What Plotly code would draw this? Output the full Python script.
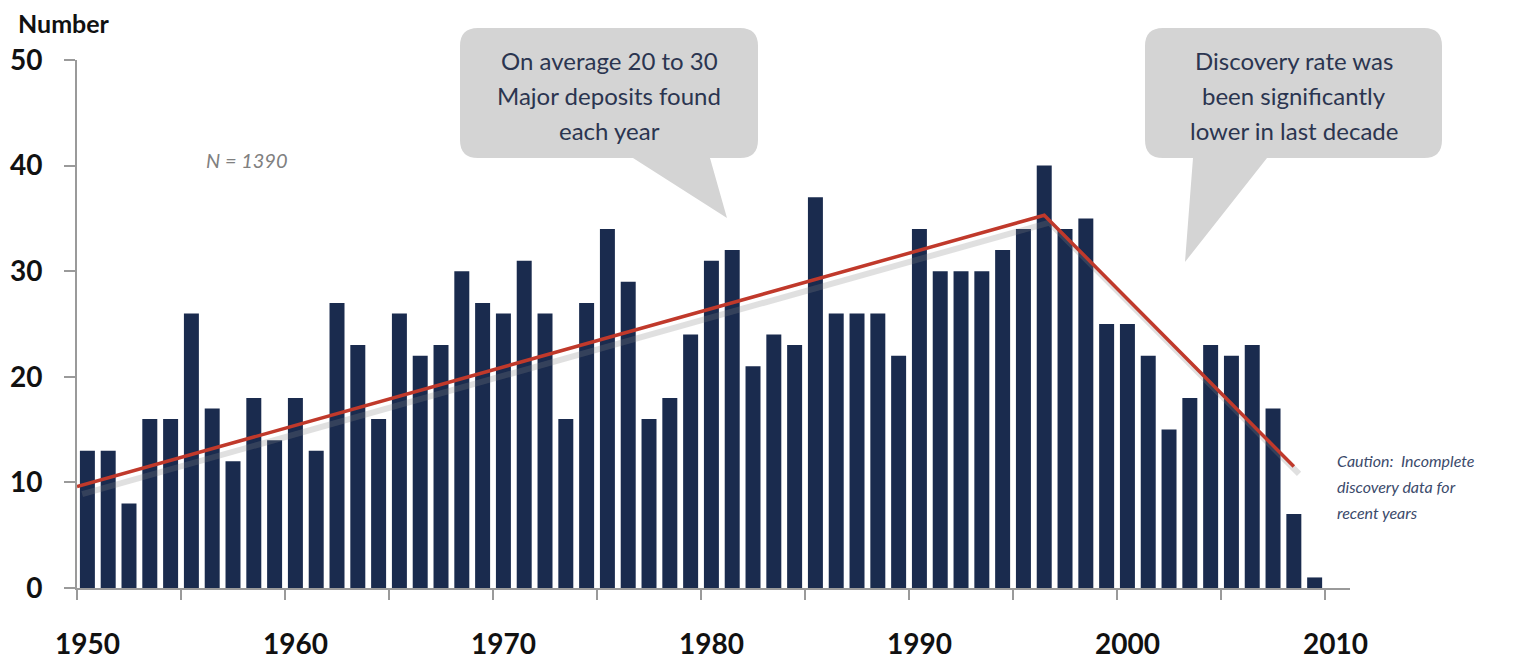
import plotly.graph_objects as go

# ---------------- data ----------------
years = list(range(1950, 2010))
discoveries = [13, 13, 8, 16, 16, 26, 17, 12, 18, 14,
               18, 13, 27, 23, 16, 26, 22, 23, 30, 27,
               26, 31, 26, 16, 27, 34, 29, 16, 18, 24,
               31, 32, 21, 24, 23, 37, 26, 26, 26, 22,
               34, 30, 30, 30, 32, 34, 40, 34, 35, 25,
               25, 22, 15, 18, 23, 22, 23, 17, 7, 1]
trend_x = [1949.5, 1996, 2008]
trend_y = [9.6, 35.3, 11.5]
x_tick_vals = [1950, 1960, 1970, 1980, 1990, 2000, 2010]
x_tick_text = ["1950", "1960", "1970", "1980", "1990", "2000", "2010"]
x_boundary_ticks = [1949.5 + 5 * i for i in range(13)]
y_tick_vals = [0, 10, 20, 30, 40, 50]

# ---------------- layout constants (window pixels) ----------------
OFF = 8                      # page body margin
W, H = 1524 - OFF, 659 - OFF
L, R, T, B = 77, 1350, 60, 588   # plot area in window pixels
PW, PH = R - L, B - T

def px(x):
    return (x - L) / PW

def py(y):
    return (B - y) / PH

def bubble_path(x0, y0, x1, y1, r, tail_right, tail_left, tip):
    def P(x, y):
        return f"{px(x):.5f},{py(y):.5f}"
    s = f"M {P(x0 + r, y0)} L {P(x1 - r, y0)} Q {P(x1, y0)} {P(x1, y0 + r)} "
    s += f"L {P(x1, y1 - r)} Q {P(x1, y1)} {P(x1 - r, y1)} "
    s += f"L {P(tail_right, y1)} L {P(tip[0], tip[1])} L {P(tail_left, y1)} "
    s += f"L {P(x0 + r, y1)} Q {P(x0, y1)} {P(x0, y1 - r)} "
    s += f"L {P(x0, y0 + r)} Q {P(x0, y0)} {P(x0 + r, y0)} Z"
    return s

NAVY = "#1a2b4e"
RED = "#c0392b"
FONT = "Lato"

fig = go.Figure()

fig.add_trace(go.Bar(
    x=years, y=discoveries,
    marker=dict(color=NAVY, line=dict(width=0)),
    hoverinfo="x+y",
))

# shadow of the trend line
fig.add_trace(go.Scatter(
    x=[v + 0.25 for v in trend_x], y=[v - 0.7 for v in trend_y],
    mode="lines", line=dict(color="rgba(130,130,130,0.25)", width=6),
    hoverinfo="skip",
))
fig.add_trace(go.Scatter(
    x=trend_x, y=trend_y, mode="lines",
    line=dict(color=RED, width=3.5),
    hoverinfo="skip",
))

shapes = [
    dict(type="path", xref="paper", yref="paper",
         path=bubble_path(460, 28, 758, 158, 18, 710, 633, (727, 218)),
         fillcolor="#d4d4d4", line=dict(width=0), layer="above"),
    dict(type="path", xref="paper", yref="paper",
         path=bubble_path(1145, 28, 1442, 158, 18, 1267, 1193, (1185, 262)),
         fillcolor="#d4d4d4", line=dict(width=0), layer="above"),
]

annotations = []
TEXT_C = "#2b3550"
for i, line in enumerate(["On average 20 to 30", "Major deposits found", "each year"]):
    annotations.append(dict(xref="paper", yref="paper", x=px(609), y=py(60 + 35 * i),
                            text=line, showarrow=False, xanchor="center", yanchor="middle",
                            font=dict(family=FONT, size=24, color=TEXT_C)))
for i, line in enumerate(["Discovery rate was", "been significantly", "lower in last decade"]):
    annotations.append(dict(xref="paper", yref="paper", x=px(1294), y=py(60 + 35 * i),
                            text=line, showarrow=False, xanchor="center", yanchor="middle",
                            font=dict(family=FONT, size=24, color=TEXT_C)))
for i, line in enumerate(["Caution:  Incomplete", "discovery data for", "recent years"]):
    annotations.append(dict(xref="paper", yref="paper", x=px(1335), y=py(460 + 26 * i),
                            text=f"<i>{line}</i>", showarrow=False, xanchor="left", yanchor="middle",
                            font=dict(family=FONT, size=16, color="#3b4a6b")))
annotations.append(dict(xref="paper", yref="paper", x=px(247), y=py(160),
                        text="<i>N = 1390</i>", showarrow=False, xanchor="center", yanchor="middle",
                        font=dict(family=FONT, size=20, color="#808080")))
annotations.append(dict(xref="paper", yref="paper", x=px(16), y=py(23),
                        text="<b>Number</b>", showarrow=False, xanchor="left", yanchor="middle",
                        font=dict(family=FONT, size=25, color="#111111")))

fig.update_layout(
    width=W, height=H,
    margin=dict(l=L - OFF, r=W - (R - OFF), t=T - OFF, b=H - (B - OFF), autoexpand=False),
    paper_bgcolor="white", plot_bgcolor="white",
    showlegend=False, bargap=0.28,
    shapes=shapes, annotations=annotations,
    font=dict(family=FONT),
)
fig.update_xaxes(
    range=[1949.5, 2010.7], tickmode="array", tickvals=x_tick_vals, ticktext=x_tick_text,
    ticks="", showgrid=False, zeroline=False,
    showline=True, linecolor="#9a9a9a", linewidth=2,
    tickfont=dict(family=FONT, size=28, color="#111111", weight="bold"),
    ticklabelstandoff=30,
    minor=dict(tickmode="array", tickvals=x_boundary_ticks, ticks="outside",
               ticklen=10, tickcolor="#9a9a9a", tickwidth=2, showgrid=False),
)
fig.update_yaxes(
    range=[0, 50], tickmode="array", tickvals=y_tick_vals,
    ticks="outside", ticklen=11, tickcolor="#9a9a9a", tickwidth=2,
    showgrid=False, zeroline=False,
    showline=True, linecolor="#9a9a9a", linewidth=2,
    tickfont=dict(family=FONT, size=28, color="#111111", weight="bold"),
    ticklabelstandoff=16,
)

fig.write_html("out.html")
